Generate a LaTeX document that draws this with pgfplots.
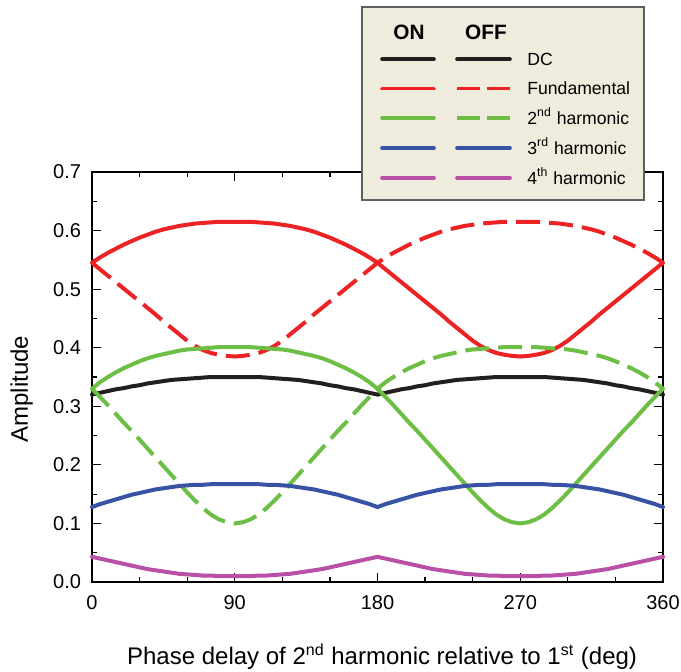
\documentclass[border=0pt]{standalone}
\usepackage{fontspec}
\setmainfont{Liberation Sans}
\usepackage{pgfplots}
\usepackage{pgfplotstable}
\pgfplotsset{compat=1.18}

\definecolor{cdc}{RGB}{35,31,32}
\definecolor{cred}{RGB}{237,34,36}
\definecolor{cgreen}{RGB}{109,190,69}
\definecolor{cblue}{RGB}{56,83,164}
\definecolor{cmag}{RGB}{185,80,168}
\definecolor{legfill}{RGB}{239,236,221}
\definecolor{legdraw}{RGB}{95,95,95}

% phi, DC, fundamental ON/OFF, 2nd harmonic ON/OFF, 3rd, 4th
\pgfplotstableread{
phi dc fon foff hon hoff hthree hfour
0   0.320 0.545 0.545 0.330 0.330 0.128 0.043
5   0.323 0.554 0.534 0.341 0.316 0.133 0.040
10  0.326 0.562 0.523 0.350 0.302 0.137 0.037
15  0.329 0.569 0.512 0.358 0.287 0.141 0.034
20  0.331 0.576 0.501 0.365 0.272 0.145 0.031
25  0.334 0.582 0.490 0.371 0.258 0.149 0.028
30  0.336 0.588 0.479 0.377 0.243 0.152 0.025
35  0.339 0.593 0.468 0.382 0.228 0.155 0.022
40  0.341 0.598 0.457 0.386 0.213 0.158 0.020
45  0.343 0.602 0.445 0.389 0.198 0.160 0.018
50  0.345 0.605 0.434 0.392 0.183 0.162 0.016
55  0.346 0.608 0.423 0.395 0.168 0.164 0.014
60  0.347 0.610 0.412 0.397 0.153 0.165 0.013
65  0.348 0.612 0.403 0.398 0.139 0.166 0.012
70  0.349 0.613 0.396 0.399 0.126 0.166 0.011
75  0.350 0.614 0.391 0.400 0.115 0.167 0.011
80  0.350 0.615 0.388 0.401 0.107 0.167 0.010
85  0.350 0.615 0.386 0.401 0.102 0.167 0.010
90  0.350 0.615 0.385 0.401 0.100 0.167 0.010
95  0.350 0.615 0.386 0.401 0.102 0.167 0.010
100 0.350 0.615 0.388 0.401 0.107 0.167 0.010
105 0.350 0.614 0.391 0.400 0.115 0.167 0.011
110 0.349 0.613 0.396 0.399 0.126 0.166 0.011
115 0.348 0.612 0.403 0.398 0.139 0.166 0.012
120 0.347 0.610 0.412 0.397 0.153 0.165 0.013
125 0.346 0.608 0.423 0.395 0.168 0.164 0.014
130 0.345 0.605 0.434 0.392 0.183 0.162 0.016
135 0.343 0.602 0.445 0.389 0.198 0.160 0.018
140 0.341 0.598 0.457 0.386 0.213 0.158 0.020
145 0.339 0.593 0.468 0.382 0.228 0.155 0.022
150 0.336 0.588 0.479 0.377 0.243 0.152 0.025
155 0.334 0.582 0.490 0.371 0.258 0.149 0.028
160 0.331 0.576 0.501 0.365 0.272 0.145 0.031
165 0.329 0.569 0.512 0.358 0.287 0.141 0.034
170 0.326 0.562 0.523 0.350 0.302 0.137 0.037
175 0.323 0.554 0.534 0.341 0.316 0.133 0.040
180 0.320 0.545 0.545 0.330 0.330 0.128 0.043
185 0.323 0.534 0.554 0.316 0.341 0.133 0.040
190 0.326 0.523 0.562 0.302 0.350 0.137 0.037
195 0.329 0.512 0.569 0.287 0.358 0.141 0.034
200 0.331 0.501 0.576 0.272 0.365 0.145 0.031
205 0.334 0.490 0.582 0.258 0.371 0.149 0.028
210 0.336 0.479 0.588 0.243 0.377 0.152 0.025
215 0.339 0.468 0.593 0.228 0.382 0.155 0.022
220 0.341 0.457 0.598 0.213 0.386 0.158 0.020
225 0.343 0.445 0.602 0.198 0.389 0.160 0.018
230 0.345 0.434 0.605 0.183 0.392 0.162 0.016
235 0.346 0.423 0.608 0.168 0.395 0.164 0.014
240 0.347 0.412 0.610 0.153 0.397 0.165 0.013
245 0.348 0.403 0.612 0.139 0.398 0.166 0.012
250 0.349 0.396 0.613 0.126 0.399 0.166 0.011
255 0.350 0.391 0.614 0.115 0.400 0.167 0.011
260 0.350 0.388 0.615 0.107 0.401 0.167 0.010
265 0.350 0.386 0.615 0.102 0.401 0.167 0.010
270 0.350 0.385 0.615 0.100 0.401 0.167 0.010
275 0.350 0.386 0.615 0.102 0.401 0.167 0.010
280 0.350 0.388 0.615 0.107 0.401 0.167 0.010
285 0.350 0.391 0.614 0.115 0.400 0.167 0.011
290 0.349 0.396 0.613 0.126 0.399 0.166 0.011
295 0.348 0.403 0.612 0.139 0.398 0.166 0.012
300 0.347 0.412 0.610 0.153 0.397 0.165 0.013
305 0.346 0.423 0.608 0.168 0.395 0.164 0.014
310 0.345 0.434 0.605 0.183 0.392 0.162 0.016
315 0.343 0.445 0.602 0.198 0.389 0.160 0.018
320 0.341 0.457 0.598 0.213 0.386 0.158 0.020
325 0.339 0.468 0.593 0.228 0.382 0.155 0.022
330 0.336 0.479 0.588 0.243 0.377 0.152 0.025
335 0.334 0.490 0.582 0.258 0.371 0.149 0.028
340 0.331 0.501 0.576 0.272 0.365 0.145 0.031
345 0.329 0.512 0.569 0.287 0.358 0.141 0.034
350 0.326 0.523 0.562 0.302 0.350 0.137 0.037
355 0.323 0.534 0.554 0.316 0.341 0.133 0.040
360 0.320 0.545 0.545 0.330 0.330 0.128 0.043
}\amp

\begin{document}
\begin{tikzpicture}
\path[use as bounding box] (0pt,0pt) rectangle (340.5pt,335.5pt);
\begin{axis}[at={(46pt,44.5pt)},anchor=south west,scale only axis,
  width=285.5pt,height=205pt,
  xmin=0,xmax=360,ymin=0,ymax=0.7,
  xtick={0,90,180,270,360},ytick={0,0.1,0.2,0.3,0.4,0.5,0.6,0.7},
  minor x tick num=2,minor y tick num=1,
  tick align=inside,major tick length=4.5pt,minor tick length=2.5pt,
  axis line style={line width=0.6pt},
  every tick/.style={line width=0.6pt,black},
  /pgf/number format/assume math mode=true,
  yticklabel style={/pgf/number format/fixed,/pgf/number format/fixed zerofill,/pgf/number format/precision=1,xshift=-2pt},
  tick label style={font=\fontsize{10}{12}\selectfont},
  xticklabel style={yshift=-3pt},
  label style={font=\fontsize{12}{14}\selectfont},
  xlabel={Phase delay of 2\textsuperscript{nd} harmonic relative to 1\textsuperscript{st} (deg)},
  ylabel={Amplitude},
  xlabel style={at={(axis description cs:0.508,-0.183)},anchor=center},
  ylabel style={at={(axis description cs:-0.123,0.47)},anchor=center},
  clip=false]
\addplot[cdc,line width=2pt,line cap=round] table[x=phi,y=dc] {\amp};
\addplot[cred,line width=2pt,line cap=round] table[x=phi,y=fon] {\amp};
\addplot[cred,line width=2pt,dash pattern=on 12pt off 4.5pt] table[x=phi,y=foff] {\amp};
\addplot[cgreen,line width=2pt,line cap=round] table[x=phi,y=hon] {\amp};
\addplot[cgreen,line width=2pt,dash pattern=on 12pt off 4.5pt] table[x=phi,y=hoff] {\amp};
\addplot[cblue,line width=2pt,line cap=round] table[x=phi,y=hthree] {\amp};
\addplot[cmag,line width=2pt,line cap=round] table[x=phi,y=hfour] {\amp};
\end{axis}

% legend
\draw[draw=legdraw,fill=legfill,line width=0.7pt] (181pt,235.5pt) rectangle (322pt,332pt);
\node[font=\fontsize{10.4}{12}\selectfont\bfseries] at (204.5pt,319.5pt) {ON};
\node[font=\fontsize{10.4}{12}\selectfont\bfseries] at (243pt,319.5pt) {OFF};
\begin{scope}[line width=1.8pt,line cap=round]
\draw[cdc] (191pt,305.85pt) -- (217pt,305.85pt);
\draw[cdc] (228.5pt,305.85pt) -- (255pt,305.85pt);
\draw[cred] (191pt,291.15pt) -- (217pt,291.15pt);
\draw[cred,line cap=butt,dash pattern=on 11.5pt off 3.5pt] (228.5pt,291.15pt) -- (255pt,291.15pt);
\draw[cgreen] (191pt,276.5pt) -- (217pt,276.5pt);
\draw[cgreen,line cap=butt,dash pattern=on 11.5pt off 3.5pt] (228.5pt,276.5pt) -- (255pt,276.5pt);
\draw[cblue] (191pt,261.5pt) -- (217pt,261.5pt);
\draw[cblue] (228.5pt,261.5pt) -- (255pt,261.5pt);
\draw[cmag] (191pt,246.5pt) -- (217pt,246.5pt);
\draw[cmag] (228.5pt,246.5pt) -- (255pt,246.5pt);
\end{scope}
\begin{scope}[every node/.style={anchor=base west,inner sep=0pt,font=\fontsize{8.8}{10}\selectfont}]
\node at (263.5pt,302.7pt) {DC};
\node at (263.5pt,288pt) {Fundamental};
\node at (263.5pt,273.3pt) {2\textsuperscript{nd} harmonic};
\node at (263.5pt,258.3pt) {3\textsuperscript{rd} harmonic};
\node at (263.5pt,243.3pt) {4\textsuperscript{th} harmonic};
\end{scope}
\end{tikzpicture}
\end{document}
